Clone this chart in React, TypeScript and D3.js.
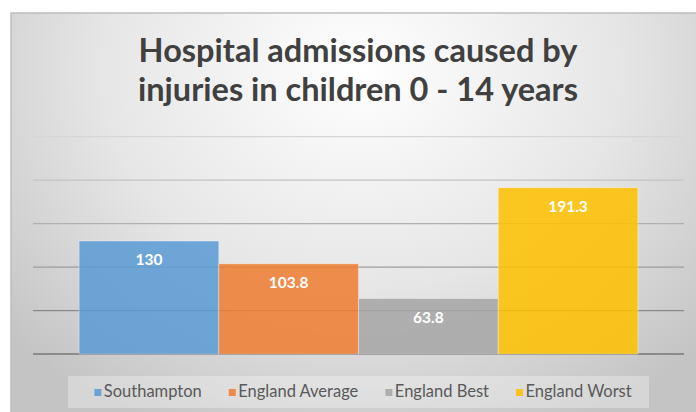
import React, { useEffect, useRef } from "react";
import * as d3 from "d3";

const TITLE_LINES = ["Hospital admissions caused by", "injuries in children 0 - 14 years"];
const SERIES = ["Southampton", "England Average", "England Best", "England Worst"];
const VALUES = [130, 103.8, 63.8, 191.3];
const LABELS = ["130", "103.8", "63.8", "191.3"];
const COLORS = ["#5b9bd5", "#ed7d31", "#a5a5a5", "#ffc000"];
const Y_TICKS = [0, 50, 100, 150, 200, 250];

const W = 696;
const H = 412;

export default function App() {
  const ref = useRef<SVGSVGElement | null>(null);

  useEffect(() => {
    const svg = d3.select(ref.current);
    svg.selectAll("*").remove();

    const defs = svg.append("defs");
    const rg = defs
      .append("radialGradient")
      .attr("id", "bg")
      .attr("gradientUnits", "userSpaceOnUse")
      .attr("cx", 360)
      .attr("cy", 70)
      .attr("r", 470)
      .attr("gradientTransform", "translate(360,70) scale(1,0.85) translate(-360,-70)");
    rg.append("stop").attr("offset", "0").attr("stop-color", "#ffffff");
    rg.append("stop").attr("offset", "0.55").attr("stop-color", "#e6e6e6");
    rg.append("stop").attr("offset", "1").attr("stop-color", "#c4c4c4");

    // chart area
    svg
      .append("rect")
      .attr("x", 11)
      .attr("y", 13)
      .attr("width", W)
      .attr("height", H)
      .attr("fill", "url(#bg)")
      .attr("stroke", "#bdbdbd")
      .attr("stroke-width", 1.5);

    // title
    const title = svg
      .append("text")
      .attr("text-anchor", "middle")
      .attr("font-family", "Lato, 'Open Sans', sans-serif")
      .attr("font-weight", "bold")
      .attr("font-size", 32.5)
      .attr("fill", "#404040");
    TITLE_LINES.forEach((t, i) => {
      title
        .append("tspan")
        .attr("x", 358)
        .attr("y", 61.5 + i * 39.5)
        .text(t);
    });

    const plotL = 33;
    const plotR = 684;
    const y = d3.scaleLinear().domain([0, 250]).range([354, 136.7]);
    const x = d3
      .scaleBand<string>()
      .domain(SERIES)
      .range([plotL, plotR])
      .paddingInner(0)
      .paddingOuter(0.33);

    const gridColor = d3
      .scaleLinear<string>()
      .domain([0, 250])
      .range(["#777777", "#d6d6d6"]);

    // gridlines
    svg
      .append("g")
      .selectAll("line")
      .data(Y_TICKS)
      .join("line")
      .attr("x1", plotL)
      .attr("x2", plotR)
      .attr("y1", (d) => y(d))
      .attr("y2", (d) => y(d))
      .attr("stroke", (d) => gridColor(d))
      .attr("stroke-width", (d) => (d === 0 ? 1.5 : 1.2));

    // bars
    const bars = SERIES.map((s, i) => ({ s, v: VALUES[i], label: LABELS[i], c: COLORS[i] }));
    svg
      .append("g")
      .selectAll("rect")
      .data(bars)
      .join("rect")
      .attr("x", (d) => x(d.s)!)
      .attr("width", x.bandwidth())
      .attr("y", (d) => y(d.v))
      .attr("height", (d) => y(0) - y(d.v))
      .attr("fill", (d) => d.c)
      .attr("fill-opacity", 0.86)
      .attr("stroke", "#ffffff")
      .attr("stroke-opacity", 0.45)
      .attr("stroke-width", 0.8);

    svg
      .append("g")
      .selectAll("text")
      .data(bars)
      .join("text")
      .attr("x", (d) => x(d.s)! + x.bandwidth() / 2)
      .attr("y", (d) => y(d.v) + 24)
      .attr("text-anchor", "middle")
      .attr("font-family", "Lato, 'Open Sans', sans-serif")
      .attr("font-weight", "bold")
      .attr("font-size", 15.5)
      .attr("fill", "#ffffff")
      .text((d) => d.label);

    // legend
    svg
      .append("rect")
      .attr("x", 68)
      .attr("y", 376)
      .attr("width", 581)
      .attr("height", 32)
      .attr("fill", "#ffffff")
      .attr("fill-opacity", 0.3);

    const lg = svg.append("g");
    const items = lg
      .selectAll("g")
      .data(bars)
      .join("g");
    items
      .append("rect")
      .attr("width", 7)
      .attr("height", 7)
      .attr("y", -8)
      .attr("fill", (d) => d.c)
      .attr("fill-opacity", 0.86);
    items
      .append("text")
      .attr("x", 9.5)
      .attr("font-family", "Lato, 'Open Sans', sans-serif")
      .attr("font-size", 16.5)
      .attr("fill", "#595959")
      .text((d) => d.s);

    const gap = 27;
    const widths: number[] = [];
    items.each(function () {
      const t = d3.select(this).select("text").node() as SVGTextElement;
      widths.push(9.5 + t.getComputedTextLength());
    });
    const total = d3.sum(widths) + gap * (widths.length - 1);
    let cx = 363 - total / 2;
    items.attr("transform", (_d, i) => {
      const tx = cx;
      cx += widths[i] + gap;
      return `translate(${tx},397)`;
    });
  }, []);

  return (
    <svg
      ref={ref}
      width={W}
      height={H}
      style={{ position: "fixed", left: 0, top: 0, display: "block", background: "#ffffff" }}
    />
  );
}
